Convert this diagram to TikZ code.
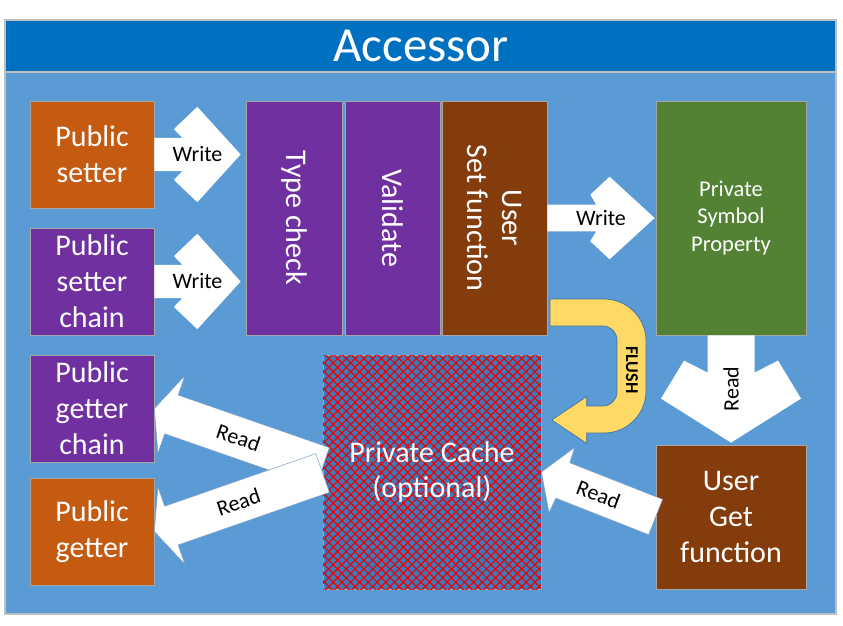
\documentclass[tikz,border=0pt]{standalone}
\usepackage{fontspec}
\setmainfont{Carlito}
\usetikzlibrary{calc,patterns.meta}
\definecolor{titleblue}{HTML}{0070C0}
\definecolor{bodyblue}{HTML}{5B9BD5}
\definecolor{orng}{HTML}{C55A11}
\definecolor{purp}{HTML}{7030A0}
\definecolor{brwn}{HTML}{843C0C}
\definecolor{grn}{HTML}{548235}
\definecolor{cacheblue}{HTML}{3B7BBD}
\definecolor{flushyel}{HTML}{FFD966}
\definecolor{edgegray}{HTML}{C0C0C0}
\definecolor{boxedge}{HTML}{A6A6A6}
\definecolor{arrowedge}{HTML}{7C9CC6}
\definecolor{flushedge}{HTML}{41719C}
\definecolor{hatchred}{HTML}{F00000}

% #1 extra style, #2 tail, #3 tip, #4 shaft half width, #5 junction dist, #6 notch dist, #7 notch half width, #8 barb dist, #9 barb half width
\newcommand\blockarrow[9][]{%
  \filldraw[barrow,#1]
   ($(#2)!#4pt!-90:(#3)$)
   -- ($(#3)!#5pt!(#2)!#4pt!90:(#2)$)
   -- ($(#3)!#6pt!(#2)!#7pt!90:(#2)$)
   -- ($(#3)!#8pt!(#2)!#9pt!90:(#2)$)
   -- (#3)
   -- ($(#3)!#8pt!(#2)!#9pt!-90:(#2)$)
   -- ($(#3)!#6pt!(#2)!#7pt!-90:(#2)$)
   -- ($(#3)!#5pt!(#2)!#4pt!-90:(#2)$)
   -- ($(#2)!#4pt!90:(#3)$)
   -- cycle;}

\tikzset{
  box/.style={draw=boxedge, line width=0.8pt, inner sep=0pt, text=white,
    align=center, font=\fontsize{30}{36}\selectfont},
  boxtxt/.style={text=white, align=center, font=\fontsize{30}{35}\selectfont, inner sep=0pt},
  barrow/.style={fill=white, draw=arrowedge, line width=0.5pt},
  lbl/.style={text=black, font=\fontsize{22}{26}\selectfont, inner sep=0pt},
}

\begin{document}
\begin{tikzpicture}[x=1pt, y=-1pt]
\useasboundingbox (0,0) rectangle (843,626);
\fill[white] (0,0) rectangle (843,626);

% frame
\draw[edgegray, line width=1.2pt, fill=bodyblue] (5,20) rectangle (836,614);
\draw[edgegray, line width=1.2pt, fill=titleblue] (5,20) rectangle (836,72);
\node[text=white, font=\fontsize{49}{58}\selectfont, inner sep=0pt] (title) at (421,46) {Accessor};

% boxes
\node[box, fill=orng, minimum width=124pt, minimum height=107pt] (setter) at (92,154.5) {Public\\setter};
\node[box, fill=purp, minimum width=124pt, minimum height=107pt] (setterchain) at (92,281.5) {Public\\setter\\chain};
\node[box, fill=purp, minimum width=124pt, minimum height=107pt] (getterchain) at (92,408.5) {Public\\getter\\chain};
\node[box, fill=orng, minimum width=124pt, minimum height=107pt] (getter) at (92,531.5) {Public\\getter};

\node[box, fill=purp, minimum width=96pt, minimum height=234pt] (typecheck) at (294,218) {};
\node[box, fill=purp, minimum width=95pt, minimum height=234pt] (validate) at (392.5,218) {};
\node[box, fill=brwn, minimum width=105pt, minimum height=234pt] (userset) at (494.5,218) {};
\node[boxtxt, rotate=-90] (typechecktxt) at (typecheck.center) {Type check};
\node[boxtxt, rotate=-90] (validatetxt) at (validate.center) {Validate};
\node[boxtxt, rotate=-90] (usersettxt) at (userset.center) {User\\Set function};

\node[box, fill=grn, minimum width=150pt, minimum height=234pt,
      font=\fontsize{22.5}{27.5}\selectfont] (privsym) at (731,218) {Private\\Symbol\\Property};
\node[box, fill=brwn, minimum width=150pt, minimum height=144pt] (getfn) at (731,517) {User\\Get\\function};

\node[box, fill=cacheblue, minimum width=218pt, minimum height=234pt,
      postaction={pattern={Lines[angle=45,distance=6.2pt,line width=1.2pt]}, pattern color=hatchred},
      postaction={pattern={Lines[angle=-45,distance=6.2pt,line width=1.2pt]}, pattern color=hatchred}]
      (cache) at (432,472) {};
\node[boxtxt] (cachetxt) at (cache.center) {Private Cache\\(optional)};

% anchor coordinates for block arrows
\coordinate (w1tip) at ($(typecheck.west|-setter.east)+(-5,0)$);
\coordinate (w2tip) at ($(typecheck.west|-setterchain.east)+(-5,0)$);
\coordinate (w3tip) at ($(privsym.west|-userset.east)+(-1,0)$);
\coordinate (rdtip) at ($(getfn.north)+(0,-2)$);
\coordinate (r1tail) at ($(cache.west)+(0,-5)$);
\coordinate (r2tail) at ($(cache.west)+(0,1)$);

% read arrows to the getters
\blockarrow{r1tail}{getterchain.east}{20.5}{18}{18}{20.5}{18}{41}
\blockarrow{r2tail}{getter.east}{20.5}{18}{18}{20.5}{18}{41}
\blockarrow{getfn.west}{cache.east}{19}{23}{23}{19}{22}{35}

% write arrows
\blockarrow[draw=none]{setter.east}{w1tip}{16.7}{58.3}{66.7}{25.4}{43.3}{47.7}
\blockarrow[draw=none]{setterchain.east}{w2tip}{16.7}{58.3}{66.7}{25.4}{43.3}{47.7}
\blockarrow[draw=none]{userset.east}{w3tip}{13.3}{58.3}{64.3}{23.3}{45}{41.3}
% read down arrow
\blockarrow[draw=none]{privsym.south}{rdtip}{23.5}{70}{82}{47}{44}{70}

% flush u-turn arrow
\filldraw[fill=flushyel, draw=flushedge, line width=0.7pt]
  (550,299) -- (604,299) .. controls (627.2,299) and (646,317.8) .. (646,341)
  -- (646,391) .. controls (646,414.2) and (627.2,433) .. (604,433)
  -- (586.7,433) -- (586.7,443.5) -- (551.7,420) -- (586.7,396.5) -- (586.7,406)
  -- (603,406) .. controls (610.7,406) and (617,399.7) .. (617,392)
  -- (617,340) .. controls (617,332.3) and (610.7,326) .. (603,326)
  -- (550,326) -- cycle;
\node[font=\bfseries\fontsize{18}{20}\selectfont, rotate=-90, inner sep=0pt] (flushtxt) at (632,370) {FLUSH};

% labels
\node[lbl] (w1l) at ($(setter.east)!0.5!(w1tip)$) {Write};
\node[lbl] (w2l) at ($(setterchain.east)!0.5!(w2tip)$) {Write};
\node[lbl] (w3l) at ($(userset.east)!0.5!(w3tip)$) {Write};
\node[lbl, rotate=90] (rdl) at ($(privsym.south)!0.5!(rdtip)$) {Read};
\node[lbl, rotate=-18.8] (r1l) at ($(r1tail)!0.5!(getterchain.east)$) {Read};
\node[lbl, rotate=18.8] (r2l) at ($(r2tail)!0.5!(getter.east)$) {Read};
\node[lbl, rotate=-20.8] (r3l) at ($(getfn.west)!0.5!(cache.east)$) {Read};
\end{tikzpicture}
\end{document}
